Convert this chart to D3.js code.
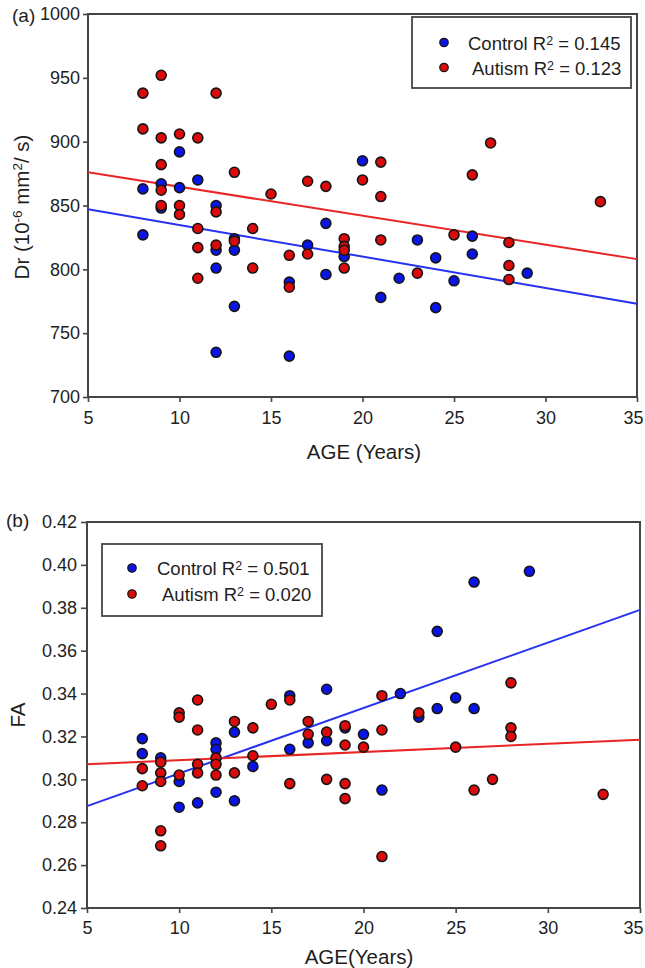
<!DOCTYPE html>
<html><head><meta charset="utf-8">
<script src="https://cdn.jsdelivr.net/npm/d3@7"></script>
<style>
body{margin:0;background:#fff}
svg{display:block}
text{font-family:"Liberation Sans",Arial,sans-serif;fill:#1e1e1e}
</style>
</head><body><svg id="c" width="645" height="968"></svg>
<script>
// ---------- data ----------
const xTicks = [5,10,15,20,25,30,35];
const drTicks = [700,750,800,850,900,950,1000];
const faTicks = [0.24,0.26,0.28,0.30,0.32,0.34,0.36,0.38,0.40,0.42];

// Panel (a): Dr vs age
const ctrlAgeA = [8,8,9,9,10,10,11,12,12,12,12,13,13,13,16,16,17,18,18,19,20,21,22,23,24,24,25,26,26,29];
const ctrlDr   = [863,827,867,848,892,864,870,850,815,801,735,824,815,771,790,732,819,836,796,810,885,778,793,823,809,770,791,826,812,797];
const autAgeA  = [8,8,9,9,9,9,9,10,10,10,11,11,11,11,12,12,12,13,13,14,14,15,16,16,17,17,18,19,19,19,19,20,21,21,21,23,25,26,27,28,28,28,33];
const autDr    = [938,910,952,903,882,862,850,906,850,843,903,832,817,793,938,845,819,876,822,832,801,859,811,786,869,812,865,824,818,815,801,870,884,857,823,797,827,874,899,821,803,792,853];
const fitAgeEnds = [5,35];
const ctrlFitDr = [847,773];
const autFitDr  = [876,808];

// Panel (b): FA vs age
const ctrlAgeB = [8,8,9,10,10,11,12,12,12,13,13,14,16,16,17,18,18,19,20,21,22,23,24,24,25,26,26,29];
const ctrlFa   = [0.319,0.312,0.310,0.299,0.287,0.289,0.317,0.314,0.294,0.322,0.290,0.306,0.339,0.314,0.317,0.342,0.318,0.324,0.321,0.295,0.340,0.329,0.369,0.333,0.338,0.392,0.333,0.397];
const autAgeB  = [8,8,9,9,9,9,9,10,10,10,11,11,11,11,12,12,12,13,13,14,14,15,16,16,17,17,18,18,19,19,19,19,20,21,21,21,23,25,26,27,28,28,28,33];
const autFa    = [0.305,0.297,0.308,0.303,0.299,0.276,0.269,0.331,0.329,0.302,0.337,0.323,0.307,0.303,0.310,0.307,0.302,0.327,0.303,0.324,0.311,0.335,0.337,0.298,0.327,0.321,0.322,0.300,0.325,0.316,0.298,0.291,0.315,0.339,0.323,0.264,0.331,0.315,0.295,0.300,0.345,0.324,0.320,0.293];
const ctrlFitFa = [0.2875,0.379];
const autFitFa  = [0.307,0.3185];

const legendA = [["Control","0.145"],["Autism","0.123"]];
const legendB = [["Control","0.501"],["Autism","0.020"]];

// ---------- styles ----------
const RED = "#dc0a0a", BLUE = "#0a14e6";
const RED_LINE = "#e82626", BLUE_LINE = "#2632f0";
const AX = "#454545";
const svg = d3.select("#c");

function panel(cfg){
  const x = d3.scaleLinear().domain([5,35]).range([cfg.x0,cfg.x1]);
  const y = d3.scaleLinear().domain(cfg.yDom).range([cfg.y1,cfg.y0]);
  const g = svg.append("g");

  // axes
  const ya = g.append("g").attr("transform",`translate(${cfg.x0},0)`)
    .call(d3.axisLeft(y).tickValues(cfg.yTicks).tickSize(cfg.tick).tickPadding(cfg.ypad).tickFormat(cfg.yFmt));
  const xa = g.append("g").attr("transform",`translate(0,${cfg.y1})`)
    .call(d3.axisBottom(x).tickValues(xTicks).tickSize(5).tickPadding(cfg.xpad).tickFormat(d3.format("d")));
  [ya,xa].forEach(a=>{
    a.select(".domain").remove();
    a.selectAll(".tick line").attr("stroke",AX).attr("stroke-width",1.6);
    a.selectAll(".tick text").attr("font-size",18).attr("fill","#1e1e1e")
      .style("font-family",'"Liberation Sans",Arial,sans-serif');
  });
  // last x tick label sits slightly inside the canvas edge, as in the reference
  xa.selectAll(".tick text").filter(d=>d===35).attr("dx",cfg.lastDx);

  g.append("rect").attr("x",cfg.x0).attr("y",cfg.y0)
    .attr("width",cfg.x1-cfg.x0).attr("height",cfg.y1-cfg.y0)
    .attr("fill","none").attr("stroke",AX).attr("stroke-width",2);

  // fit lines
  const line = d3.line().x(d=>x(d[0])).y(d=>y(d[1]));
  g.append("path").datum(fitAgeEnds.map((a,i)=>[a,cfg.ctrlFit[i]]))
    .attr("d",line).attr("stroke",BLUE_LINE).attr("stroke-width",2).attr("fill","none");
  g.append("path").datum(fitAgeEnds.map((a,i)=>[a,cfg.autFit[i]]))
    .attr("d",line).attr("stroke",RED_LINE).attr("stroke-width",2).attr("fill","none");

  // points
  const pts = (ages,vals,col)=>g.append("g").selectAll("circle")
    .data(ages.map((a,i)=>[a,vals[i]])).join("circle")
    .attr("cx",d=>x(d[0])).attr("cy",d=>y(d[1])).attr("r",5)
    .attr("fill",col).attr("stroke","#151515").attr("stroke-width",1.6);
  pts(cfg.ctrlAge,cfg.ctrlVal,BLUE);
  pts(cfg.autAge,cfg.autVal,RED);

  // legend
  const L = cfg.leg;
  g.append("rect").attr("x",L.x).attr("y",L.y).attr("width",L.w).attr("height",L.h)
    .attr("fill","#fff").attr("stroke",AX).attr("stroke-width",1.8);
  cfg.legend.forEach((row,i)=>{
    const cy = L.rows[i];
    g.append("circle").attr("cx",L.mx).attr("cy",cy).attr("r",4.2)
      .attr("fill",i===0?BLUE:RED).attr("stroke","#151515").attr("stroke-width",1.3);
    const t = g.append("text").attr("x",L.tx[i]).attr("y",cy+7.2).attr("font-size",18.5);
    t.append("tspan").text(row[0]+" R");
    t.append("tspan").attr("font-size",12.5).attr("dy",-5).text("2");
    t.append("tspan").attr("dy",5).text(" = "+row[1]);
  });

  // panel tag
  svg.append("text").attr("x",cfg.tag[0]).attr("y",cfg.tag[1]).attr("font-size",19).text(cfg.tagText);
  // x label
  svg.append("text").attr("x",cfg.xl[0]).attr("y",cfg.xl[1]).attr("text-anchor","middle")
    .attr("font-size",20.5).text(cfg.xLabel);
  return {x,y};
}

panel({
  x0:88,x1:637,y0:14,y1:397,yDom:[700,1000],yTicks:drTicks,yFmt:d3.format("d"),
  tick:5,ypad:3,xpad:9,lastDx:-4,
  ctrlAge:ctrlAgeA,ctrlVal:ctrlDr,autAge:autAgeA,autVal:autDr,
  ctrlFit:ctrlFitDr,autFit:autFitDr,legend:legendA,
  leg:{x:412,y:17,w:219,h:71,mx:444,rows:[42.5,67.5],tx:[468,472]},
  tag:[12,22],tagText:"(a)",xl:[364,459],xLabel:"AGE (Years)"
});
panel({
  x0:87,x1:640,y0:522,y1:908,yDom:[0.24,0.42],yTicks:faTicks,yFmt:d3.format(".2f"),
  tick:6,ypad:4,xpad:8,lastDx:-7,
  ctrlAge:ctrlAgeB,ctrlVal:ctrlFa,autAge:autAgeB,autVal:autFa,
  ctrlFit:ctrlFitFa,autFit:autFitFa,legend:legendB,
  leg:{x:102,y:544,w:220,h:72,mx:132,rows:[568,594],tx:[157,162]},
  tag:[6,527],tagText:"(b)",xl:[359,964],xLabel:"AGE(Years)"
});

// y labels
const yl = svg.append("text").attr("transform","translate(29,207) rotate(-90)")
  .attr("text-anchor","middle").attr("font-size",20.5);
yl.append("tspan").text("Dr (10");
yl.append("tspan").attr("font-size",13.5).attr("dy",-7).text("-6");
yl.append("tspan").attr("dy",7).text(" mm");
yl.append("tspan").attr("font-size",13.5).attr("dy",-7).text("2");
yl.append("tspan").attr("dy",7).text("/ s)");

svg.append("text").attr("transform","translate(25,715) rotate(-90)")
  .attr("text-anchor","middle").attr("font-size",20.5).text("FA");
</script>
</body></html>
